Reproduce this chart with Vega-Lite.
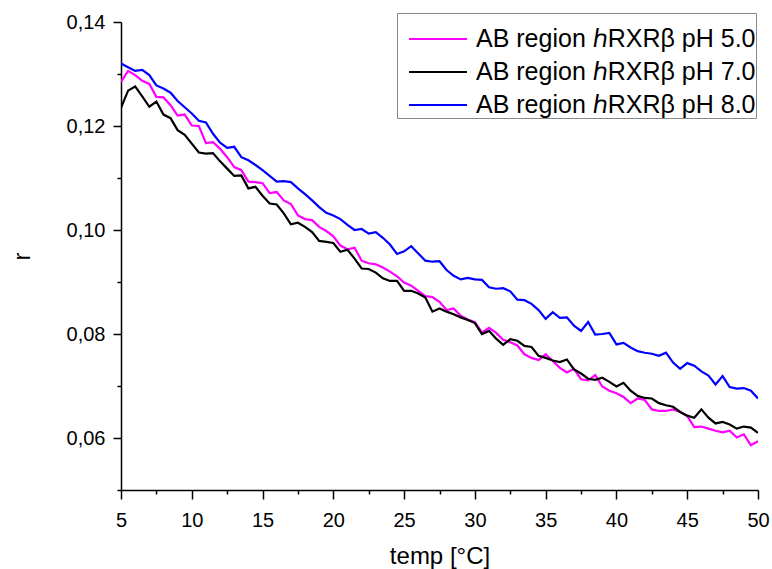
{
  "$schema": "https://vega.github.io/schema/vega-lite/v6.json",
  "width": 637,
  "height": 468,
  "autosize": {"type": "none"},
  "padding": {"left": 121, "top": 22, "right": 14, "bottom": 79},
  "background": "white",
  "config": {
    "view": {"stroke": null},
    "font": "Liberation Sans",
    "axis": {"grid": false, "domainColor": "black", "domainWidth": 1.5, "tickColor": "black", "tickWidth": 1.5, "labelColor": "black", "titleColor": "black", "labelFont": "Liberation Sans", "titleFont": "Liberation Sans", "labelFontSize": 20, "titleFontSize": 24, "titleFontWeight": "normal"}
  },
  "data": {"values": [
    {"t":5.0,"m":0.1285,"k":0.1235,"b":0.1320},
    {"t":5.5,"m":0.1306,"k":0.1268,"b":0.1313},
    {"t":6.0,"m":0.1298,"k":0.1276,"b":0.1306},
    {"t":6.5,"m":0.1287,"k":0.1257,"b":0.1308},
    {"t":7.0,"m":0.1281,"k":0.1237,"b":0.1298},
    {"t":7.5,"m":0.1256,"k":0.1247,"b":0.1278},
    {"t":8.0,"m":0.1255,"k":0.1222,"b":0.1272},
    {"t":8.5,"m":0.1240,"k":0.1215,"b":0.1264},
    {"t":9.0,"m":0.1220,"k":0.1192,"b":0.1248},
    {"t":9.5,"m":0.1222,"k":0.1183,"b":0.1236},
    {"t":10.0,"m":0.1201,"k":0.1166,"b":0.1224},
    {"t":10.5,"m":0.1200,"k":0.1149,"b":0.1210},
    {"t":11.0,"m":0.1167,"k":0.1147,"b":0.1207},
    {"t":11.5,"m":0.1169,"k":0.1148,"b":0.1185},
    {"t":12.0,"m":0.1156,"k":0.1132,"b":0.1168},
    {"t":12.5,"m":0.1140,"k":0.1118,"b":0.1158},
    {"t":13.0,"m":0.1121,"k":0.1104,"b":0.1160},
    {"t":13.5,"m":0.1115,"k":0.1105,"b":0.1140},
    {"t":14.0,"m":0.1093,"k":0.1080,"b":0.1134},
    {"t":14.5,"m":0.1092,"k":0.1083,"b":0.1125},
    {"t":15.0,"m":0.1090,"k":0.1066,"b":0.1115},
    {"t":15.5,"m":0.1071,"k":0.1051,"b":0.1104},
    {"t":16.0,"m":0.1073,"k":0.1049,"b":0.1093},
    {"t":16.5,"m":0.1057,"k":0.1032,"b":0.1094},
    {"t":17.0,"m":0.1050,"k":0.1011,"b":0.1092},
    {"t":17.5,"m":0.1028,"k":0.1014,"b":0.1080},
    {"t":18.0,"m":0.1021,"k":0.1006,"b":0.1069},
    {"t":18.5,"m":0.1019,"k":0.0996,"b":0.1057},
    {"t":19.0,"m":0.1006,"k":0.0979,"b":0.1044},
    {"t":19.5,"m":0.0998,"k":0.0977,"b":0.1033},
    {"t":20.0,"m":0.0988,"k":0.0975,"b":0.1028},
    {"t":20.5,"m":0.0970,"k":0.0958,"b":0.1021},
    {"t":21.0,"m":0.0963,"k":0.0962,"b":0.1010},
    {"t":21.5,"m":0.0966,"k":0.0945,"b":0.1000},
    {"t":22.0,"m":0.0941,"k":0.0926,"b":0.1002},
    {"t":22.5,"m":0.0936,"k":0.0925,"b":0.0993},
    {"t":23.0,"m":0.0934,"k":0.0918,"b":0.0996},
    {"t":23.5,"m":0.0928,"k":0.0907,"b":0.0985},
    {"t":24.0,"m":0.0920,"k":0.0902,"b":0.0972},
    {"t":24.5,"m":0.0911,"k":0.0902,"b":0.0954},
    {"t":25.0,"m":0.0899,"k":0.0883,"b":0.0959},
    {"t":25.5,"m":0.0893,"k":0.0883,"b":0.0969},
    {"t":26.0,"m":0.0883,"k":0.0878,"b":0.0955},
    {"t":26.5,"m":0.0873,"k":0.0870,"b":0.0941},
    {"t":27.0,"m":0.0871,"k":0.0843,"b":0.0939},
    {"t":27.5,"m":0.0862,"k":0.0849,"b":0.0940},
    {"t":28.0,"m":0.0846,"k":0.0843,"b":0.0923},
    {"t":28.5,"m":0.0849,"k":0.0838,"b":0.0912},
    {"t":29.0,"m":0.0835,"k":0.0832,"b":0.0905},
    {"t":29.5,"m":0.0828,"k":0.0827,"b":0.0908},
    {"t":30.0,"m":0.0823,"k":0.0821,"b":0.0905},
    {"t":30.5,"m":0.0803,"k":0.0800,"b":0.0904},
    {"t":31.0,"m":0.0812,"k":0.0806,"b":0.0890},
    {"t":31.5,"m":0.0802,"k":0.0791,"b":0.0887},
    {"t":32.0,"m":0.0789,"k":0.0779,"b":0.0888},
    {"t":32.5,"m":0.0784,"k":0.0790,"b":0.0882},
    {"t":33.0,"m":0.0778,"k":0.0787,"b":0.0866},
    {"t":33.5,"m":0.0761,"k":0.0777,"b":0.0865},
    {"t":34.0,"m":0.0754,"k":0.0775,"b":0.0858},
    {"t":34.5,"m":0.0750,"k":0.0758,"b":0.0846},
    {"t":35.0,"m":0.0761,"k":0.0754,"b":0.0829},
    {"t":35.5,"m":0.0748,"k":0.0749,"b":0.0842},
    {"t":36.0,"m":0.0735,"k":0.0746,"b":0.0831},
    {"t":36.5,"m":0.0726,"k":0.0751,"b":0.0832},
    {"t":37.0,"m":0.0733,"k":0.0732,"b":0.0816},
    {"t":37.5,"m":0.0713,"k":0.0724,"b":0.0806},
    {"t":38.0,"m":0.0711,"k":0.0714,"b":0.0823},
    {"t":38.5,"m":0.0721,"k":0.0712,"b":0.0799},
    {"t":39.0,"m":0.0699,"k":0.0716,"b":0.0800},
    {"t":39.5,"m":0.0691,"k":0.0708,"b":0.0802},
    {"t":40.0,"m":0.0686,"k":0.0699,"b":0.0780},
    {"t":40.5,"m":0.0679,"k":0.0706,"b":0.0783},
    {"t":41.0,"m":0.0667,"k":0.0691,"b":0.0774},
    {"t":41.5,"m":0.0676,"k":0.0681,"b":0.0767},
    {"t":42.0,"m":0.0673,"k":0.0677,"b":0.0764},
    {"t":42.5,"m":0.0655,"k":0.0676,"b":0.0762},
    {"t":43.0,"m":0.0652,"k":0.0667,"b":0.0758},
    {"t":43.5,"m":0.0652,"k":0.0663,"b":0.0764},
    {"t":44.0,"m":0.0655,"k":0.0660,"b":0.0745},
    {"t":44.5,"m":0.0650,"k":0.0650,"b":0.0733},
    {"t":45.0,"m":0.0642,"k":0.0643,"b":0.0744},
    {"t":45.5,"m":0.0621,"k":0.0639,"b":0.0739},
    {"t":46.0,"m":0.0622,"k":0.0655,"b":0.0728},
    {"t":46.5,"m":0.0618,"k":0.0639,"b":0.0720},
    {"t":47.0,"m":0.0614,"k":0.0628,"b":0.0703},
    {"t":47.5,"m":0.0611,"k":0.0631,"b":0.0719},
    {"t":48.0,"m":0.0614,"k":0.0626,"b":0.0698},
    {"t":48.5,"m":0.0601,"k":0.0618,"b":0.0695},
    {"t":49.0,"m":0.0607,"k":0.0622,"b":0.0696},
    {"t":49.5,"m":0.0586,"k":0.0620,"b":0.0691},
    {"t":50.0,"m":0.0594,"k":0.0610,"b":0.0676}
  ]},
  "transform": [{"fold": ["m", "k", "b"], "as": ["s", "r"]}],
  "mark": {"type": "line", "strokeWidth": 2.2, "clip": true},
  "encoding": {
    "x": {
      "field": "t", "type": "quantitative",
      "scale": {"domain": [5, 50], "nice": false, "zero": false},
      "axis": {
        "title": "temp [°C]",
        "values": [5, 7.5, 10, 12.5, 15, 17.5, 20, 22.5, 25, 27.5, 30, 32.5, 35, 37.5, 40, 42.5, 45, 47.5, 50],
        "labelExpr": "datum.value % 5 === 0 ? format(datum.value, 'd') : ''",
        "tickSize": {"condition": {"test": "datum.value % 5 !== 0", "value": 4}, "value": 9},
        "labelPadding": 11,
        "titlePadding": 14,
        "labelFlush": false
      }
    },
    "y": {
      "field": "r", "type": "quantitative",
      "scale": {"domain": [0.05, 0.14], "nice": false, "zero": false},
      "axis": {
        "title": "r",
        "values": [0.05, 0.06, 0.07, 0.08, 0.09, 0.10, 0.11, 0.12, 0.13, 0.14],
        "labelExpr": "round(datum.value * 100) % 2 === 0 ? replace(format(datum.value, '.2f'), '.', ',') : ''",
        "tickSize": {"condition": {"test": "round(datum.value * 100) % 2 === 1", "value": 4}, "value": 8},
        "labelPadding": 8,
        "titlePadding": 32,
        "labelFlush": false
      }
    },
    "color": {
      "field": "s", "type": "nominal",
      "sort": ["m", "k", "b"],
      "scale": {"domain": ["m", "k", "b"], "range": ["#FF00FF", "#000000", "#0000FF"]},
      "legend": {
        "title": " ",
        "titleFontSize": 10,
        "titlePadding": 0,
        "orient": "none",
        "legendX": 276,
        "legendY": -9,
        "direction": "vertical",
        "symbolType": "M-2,0H2",
        "symbolSize": 841,
        "symbolStrokeWidth": 2.2,
        "symbolOffset": 25,
        "labelFont": "Liberation Sans",
        "labelFontSize": 25,
        "labelColor": "black",
        "labelOffset": 22,
        "labelLimit": 400,
        "rowPadding": 4,
        "strokeColor": "#888888",
        "padding": 0,
        "fillColor": "white",
        "labelExpr": "datum.label === 'm' ? 'AB region ℎRXRβ pH 5.0 ' : datum.label === 'k' ? 'AB region ℎRXRβ pH 7.0 ' : 'AB region ℎRXRβ pH 8.0 '"
      }
    }
  }
}
